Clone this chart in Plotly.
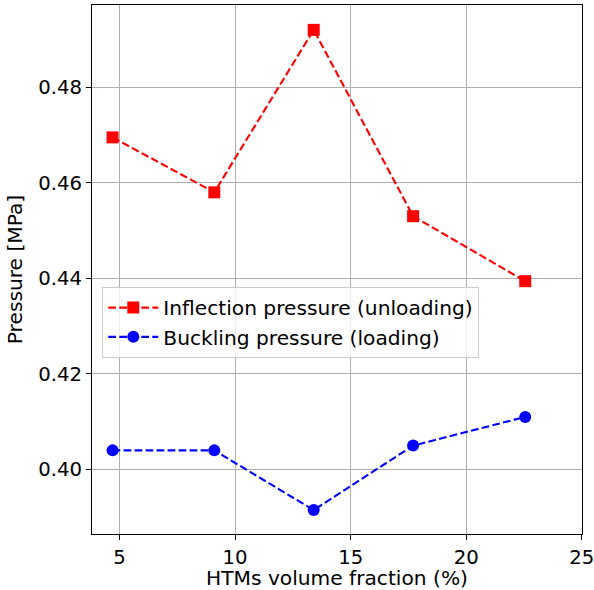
import plotly.graph_objects as go

volume_fraction = [4.7, 9.1, 13.4, 17.7, 22.55]
inflection_pressure = [0.4695, 0.458, 0.492, 0.453, 0.4394]
buckling_pressure = [0.404, 0.404, 0.3915, 0.405, 0.411]
x_ticks = [5, 10, 15, 20, 25]
y_ticks = [0.40, 0.42, 0.44, 0.46, 0.48]

FONT = "DejaVu Sans"
FS = 20.2
TFS = 19.7
dash = "7.7px,3.3px"

fig = go.Figure()
fig.add_trace(go.Scatter(
    x=volume_fraction, y=inflection_pressure, mode="lines+markers",
    name="Inflection pressure (unloading)",
    line=dict(color="#ff0000", width=2.1, dash=dash),
    marker=dict(symbol="square", size=12, color="#ff0000"),
))
fig.add_trace(go.Scatter(
    x=volume_fraction, y=buckling_pressure, mode="lines+markers",
    name="Buckling pressure (loading)",
    line=dict(color="#0000ff", width=2.1, dash=dash),
    marker=dict(symbol="circle", size=12, color="#0000ff"),
))

axis_common = dict(
    showline=True, linecolor="black", linewidth=1.1, mirror=True,
    showgrid=True, gridcolor="#b0b0b0", gridwidth=1.1,
    ticks="outside", ticklen=5, tickwidth=1.1, tickcolor="black",
    tickfont=dict(family=FONT, size=TFS, color="black"),
    ticklabeloverflow="allow",
    automargin=False,
    zeroline=False,
)

fig.update_layout(
    width=594, height=590,
    margin=dict(l=92, r=12, t=5, b=56),
    paper_bgcolor="white", plot_bgcolor="white",
    font=dict(family=FONT, size=FS, color="black"),
    xaxis=dict(range=[3.81, 25.005], tickvals=x_ticks,
               title=dict(text="HTMs volume fraction (%)", font=dict(family=FONT, size=FS), standoff=3),
               **axis_common),
    yaxis=dict(range=[0.3865, 0.4972], tickvals=y_ticks, tickformat=".2f",
               title=dict(text="Pressure [MPa]", font=dict(family=FONT, size=FS), standoff=10),
               **axis_common),
    legend=dict(x=0.021, y=0.467, xanchor="left", yanchor="top",
                bgcolor="rgba(255,255,255,0.8)", bordercolor="#cccccc", borderwidth=1,
                font=dict(family=FONT, size=FS), itemwidth=50),
    showlegend=True,
)

fig.write_html("out.html")
